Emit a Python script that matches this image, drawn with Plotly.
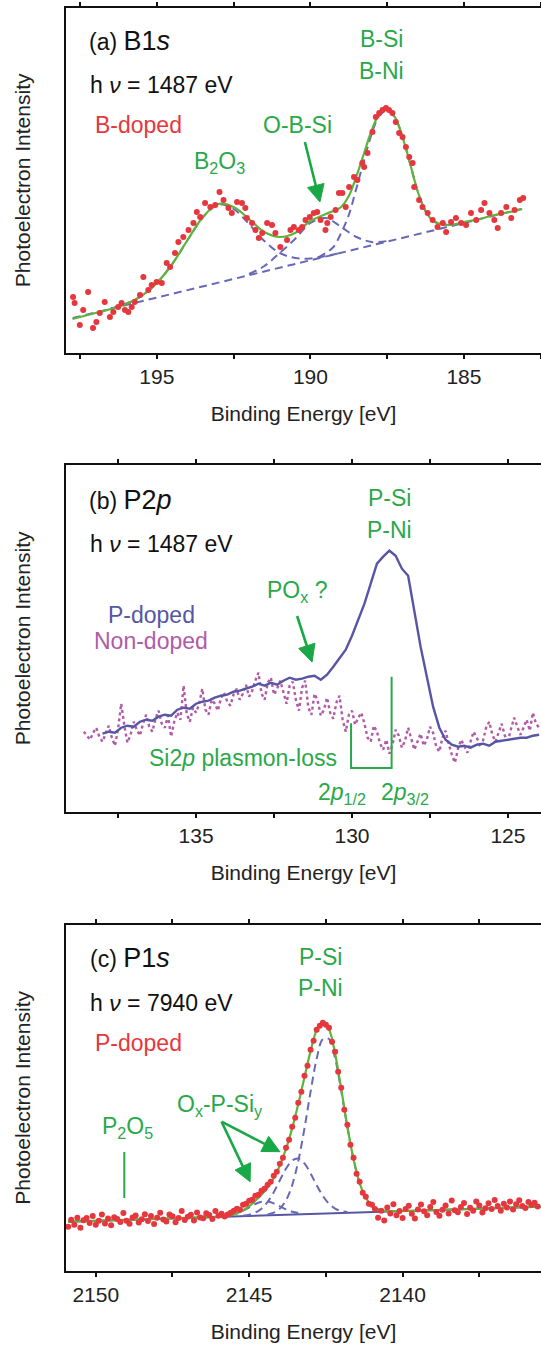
import plotly.graph_objects as go

# ---------------- (a) B 1s, hv = 1487 eV ----------------
b1s_energy = [197.73, 197.68, 197.51, 197.40, 197.24, 197.08, 196.97, 196.86, 196.70, 196.53,
              196.42, 196.26, 196.15, 196.04, 195.93, 195.82, 195.72, 195.55, 195.44, 195.28,
              195.17, 195.01, 194.84, 194.68, 194.57, 194.41, 194.30, 194.14, 193.97, 193.81,
              193.70, 193.59, 193.43, 193.26, 193.10, 192.96, 192.83, 192.67, 192.56, 192.39,
              192.23, 192.12, 192.07, 191.90, 191.79, 191.68, 191.57, 191.41, 191.25, 191.14,
              190.98, 190.76, 190.65, 190.54, 190.38, 190.27, 190.16, 190.02, 189.89, 189.78,
              189.67, 189.51, 189.45, 189.34, 189.18, 189.07, 188.96, 188.85, 188.74, 188.58,
              188.47, 188.31, 188.25, 188.14, 187.98, 187.87, 187.76, 187.65, 187.54, 187.44,
              187.33, 187.22, 187.11, 187.00, 186.89, 186.78, 186.67, 186.62, 186.46, 186.35,
              186.18, 186.02, 185.86, 185.69, 185.58, 185.42, 185.26, 185.09, 184.93, 184.77,
              184.60, 184.44, 184.33, 184.17, 184.01, 183.90, 183.79, 183.62, 183.46, 183.35,
              183.18, 183.07]
b1s_counts = [55, 49, 27, 42, 60, 24, 30, 39, 50, 35,
              40, 45, 49, 42, 40, 45, 50, 57, 75, 62,
              67, 70, 69, 89, 85, 99, 110, 115, 122, 129,
              140, 135, 149, 145, 147, 160, 152, 144, 139, 150,
              149, 144, 134, 129, 122, 114, 119, 129, 127, 119,
              105, 112, 122, 125, 122, 125, 132, 135, 139, 140,
              132, 122, 129, 135, 142, 159, 159, 145, 165, 175,
              172, 189, 185, 199, 220, 235, 239, 242, 244, 242,
              239, 230, 219, 215, 205, 195, 189, 165, 152, 145,
              139, 132, 125, 129, 120, 130, 134, 129, 127, 139,
              132, 142, 149, 139, 132, 124, 139, 145, 134, 142,
              152, 154]
b1s_fit_energy = [197.75, 197.0, 196.5, 196.0, 195.5, 195.0, 194.5, 194.0, 193.5, 193.0,
                  192.5, 192.0, 191.5, 191.0, 190.5, 190.0, 189.5, 189.0, 188.75, 188.5,
                  188.25, 188.0, 187.75, 187.5, 187.25, 187.0, 186.75, 186.5, 186.25, 186.0,
                  185.5, 185.0, 184.5, 184.0, 183.5, 183.1]
b1s_fit = [33, 39, 43, 48, 56, 69, 88, 112, 135, 148,
           145, 133, 120, 115, 119, 131, 138, 145, 156, 176,
           199, 222, 238, 242, 235, 215, 188, 160, 141, 131,
           127, 130, 133, 137, 140, 143]
b1s_bg_energy = [197.74, 183.13]
b1s_bg = [34, 143]
b2o3_energy = [196.5, 196.0, 195.5, 195.0, 194.5, 194.0, 193.5, 193.0, 192.5, 192.0,
               191.5, 191.0, 190.5, 190.0, 189.5, 189.0]
b2o3_comp = [43.5, 48.5, 56, 69, 88, 112, 134.5, 147.5, 143, 128,
             111, 99, 94, 93.5, 96, 99.3]
obsi_energy = [192.0, 191.5, 191.0, 190.5, 190.0, 189.5, 189.0, 188.5, 188.0, 187.5]
obsi_comp = [78, 86, 99, 113, 129, 134, 125, 115, 110, 111]
bsi_energy = [189.75, 189.5, 189.25, 189.0, 188.75, 188.5, 188.25, 188.0, 187.75, 187.5,
              187.25, 187.0, 186.75, 186.5, 186.25, 186.0, 185.5, 185.0]
bsi_comp = [94.5, 99, 105, 119, 137, 164, 192, 218.5, 236.5, 241,
            234.5, 215, 188, 160, 141, 131, 127, 129.5]

# ---------------- (b) P 2p, hv = 1487 eV ----------------
p2p_doped_energy = [138.0, 137.8, 137.6, 137.4, 137.2, 137.0, 136.8, 136.6, 136.4, 136.2,
                    136.0, 135.8, 135.6, 135.4, 135.2, 135.0, 134.8, 134.6, 134.4, 134.2,
                    134.0, 133.8, 133.6, 133.4, 133.2, 133.0, 132.8, 132.6, 132.4, 132.2,
                    132.0, 131.8, 131.6, 131.4, 131.2, 131.0, 130.8, 130.6, 130.4, 130.2,
                    130.0, 129.8, 129.6, 129.4, 129.2, 129.0, 128.8, 128.6, 128.4, 128.2,
                    128.0, 127.8, 127.6, 127.4, 127.2, 127.0, 126.8, 126.6, 126.4, 126.2,
                    126.0, 125.8, 125.6, 125.4, 125.2, 125.0, 124.8, 124.6, 124.4, 124.2,
                    124.0]
p2p_doped = [78, 80, 79, 84, 86, 85, 90, 92, 91, 95,
             97, 96, 102, 104, 103, 108, 110, 111, 114, 116,
             117, 120, 121, 123, 125, 128, 126, 129, 127, 131,
             134, 132, 133, 135, 136, 132, 137, 145, 154, 162,
             176, 192, 208, 228, 248, 255, 261, 256, 243, 236,
             200, 165, 135, 105, 84, 72, 67, 65, 66, 64,
             67, 68, 66, 70, 71, 72, 73, 74, 74, 76,
             77]
p2p_non_energy = [138.6, 138.5, 138.4, 138.3, 138.2, 138.1, 138.0, 137.9, 137.8, 137.7,
                  137.6, 137.5, 137.4, 137.3, 137.2, 137.1, 137.0, 136.9, 136.8, 136.7,
                  136.6, 136.5, 136.4, 136.3, 136.2, 136.1, 136.0, 135.9, 135.8, 135.7,
                  135.6, 135.5, 135.4, 135.3, 135.2, 135.1, 135.0, 134.9, 134.8, 134.7,
                  134.6, 134.5, 134.4, 134.3, 134.2, 134.1, 134.0, 133.9, 133.8, 133.7,
                  133.6, 133.5, 133.4, 133.3, 133.2, 133.1, 133.0, 132.9, 132.8, 132.7,
                  132.6, 132.5, 132.4, 132.3, 132.2, 132.1, 132.0, 131.9, 131.8, 131.7,
                  131.6, 131.5, 131.4, 131.3, 131.2, 131.1, 131.0, 130.9, 130.8, 130.7,
                  130.6, 130.5, 130.4, 130.3, 130.2, 130.1, 130.0, 129.9, 129.8, 129.7,
                  129.6, 129.5, 129.4, 129.3, 129.2, 129.1, 129.0, 128.9, 128.8, 128.7,
                  128.6, 128.5, 128.4, 128.3, 128.2, 128.1, 128.0, 127.9, 127.8, 127.7,
                  127.6, 127.5, 127.4, 127.3, 127.2, 127.1, 127.0, 126.9, 126.8, 126.7,
                  126.6, 126.5, 126.4, 126.3, 126.2, 126.1, 126.0, 125.9, 125.8, 125.7,
                  125.6, 125.5, 125.4, 125.3, 125.2, 125.1, 125.0, 124.9, 124.8, 124.7,
                  124.6, 124.5, 124.4, 124.3, 124.2, 124.1, 124.0]
p2p_non = [80, 76, 72, 79, 84, 75, 70, 78, 86, 74,
           66, 83, 108, 86, 69, 77, 90, 82, 76, 88,
           97, 85, 80, 93, 101, 88, 84, 96, 75, 90,
           99, 92, 126, 98, 90, 104, 99, 108, 123, 102,
           97, 112, 108, 101, 114, 119, 110, 106, 117, 123,
           112, 118, 127, 115, 121, 131, 139, 118, 112, 129,
           134, 117, 123, 131, 120, 108, 126, 130, 112, 101,
           124, 131, 104, 97, 118, 111, 96, 102, 114, 99,
           93, 109, 116, 92, 80, 97, 101, 87, 94, 99,
           88, 74, 70, 86, 80, 68, 62, 72, 58, 67,
           82, 76, 64, 71, 84, 73, 62, 70, 78, 66,
           72, 85, 79, 65, 60, 74, 81, 68, 57, 49,
           63, 72, 66, 59, 70, 80, 74, 67, 71, 84,
           90, 77, 70, 80, 88, 76, 71, 83, 94, 85,
           77, 84, 92, 81, 99, 88, 84]
# Si 2p plasmon-loss markers (2p1/2, 2p3/2)
plasmon_energy = [130.03, 128.73]
plasmon_height = [88.4, 135.0]
plasmon_floor = 43.7

# ---------------- (c) P 1s, hv = 7940 eV ----------------
p1s_energy = [2150.9, 2150.8, 2150.7, 2150.6, 2150.5, 2150.4, 2150.3, 2150.2, 2150.1, 2150.0,
              2149.9, 2149.8, 2149.7, 2149.6, 2149.5, 2149.4, 2149.3, 2149.2, 2149.1, 2149.0,
              2148.9, 2148.8, 2148.7, 2148.6, 2148.5, 2148.4, 2148.3, 2148.2, 2148.1, 2148.0,
              2147.9, 2147.8, 2147.7, 2147.6, 2147.5, 2147.4, 2147.3, 2147.2, 2147.1, 2147.0,
              2146.9, 2146.8, 2146.7, 2146.6, 2146.5, 2146.4, 2146.3, 2146.2, 2146.1, 2146.0,
              2145.9, 2145.8, 2145.7, 2145.6, 2145.5, 2145.4, 2145.3, 2145.2, 2145.1, 2145.0,
              2144.9, 2144.8, 2144.7, 2144.6, 2144.5, 2144.4, 2144.3, 2144.2, 2144.1, 2144.0,
              2143.9, 2143.8, 2143.7, 2143.6, 2143.5, 2143.4, 2143.3, 2143.2, 2143.1, 2143.0,
              2142.9, 2142.8, 2142.7, 2142.6, 2142.5, 2142.4, 2142.3, 2142.2, 2142.1, 2142.0,
              2141.9, 2141.8, 2141.7, 2141.6, 2141.5, 2141.4, 2141.3, 2141.2, 2141.1, 2141.0,
              2140.9, 2140.8, 2140.7, 2140.6, 2140.5, 2140.4, 2140.3, 2140.2, 2140.1, 2140.0,
              2139.9, 2139.8, 2139.7, 2139.6, 2139.5, 2139.4, 2139.3, 2139.2, 2139.1, 2139.0,
              2138.9, 2138.8, 2138.7, 2138.6, 2138.5, 2138.4, 2138.3, 2138.2, 2138.1, 2138.0,
              2137.9, 2137.8, 2137.7, 2137.6, 2137.5, 2137.4, 2137.3, 2137.2, 2137.1, 2137.0,
              2136.9, 2136.8, 2136.7, 2136.6, 2136.5, 2136.4, 2136.3, 2136.2, 2136.1, 2136.0,
              2135.9, 2135.8, 2135.7, 2135.6]
p1s_counts = [44, 51, 46, 53, 43, 50.5, 52.6, 47.7, 54.8, 45.9,
              50.0, 56.1, 47.2, 52.3, 45.4, 53.5, 51.6, 48.7, 57.8, 49.9,
              47.0, 53.1, 55.2, 48.3, 51.4, 56.5, 49.6, 54.7, 46.8, 52.9,
              58.0, 51.1, 49.2, 56.3, 54.4, 48.5, 52.6, 59.7, 50.8, 53.9,
              56.0, 50.1, 58.2, 53.3, 52.4, 57.5, 55.6, 51.7, 59.8, 54.9,
              57.0, 54.1, 56.2, 58, 60, 62, 61, 66, 67, 70,
              71, 75, 76, 80, 82, 86, 89, 95, 99, 107,
              113, 123, 131, 144, 153, 168, 179, 195, 205, 221,
              230, 241, 245, 248, 246, 243, 229, 219, 199, 183,
              161, 146, 126, 113, 97, 89, 78, 74, 67, 66,
              61.8, 52.9, 60.0, 50.1, 63.2, 57.3, 66.4, 55.5, 59.6, 52.7,
              61.8, 64.9, 57.0, 52.1, 61.2, 66.3, 59.4, 55.5, 63.6, 68.7,
              58.8, 54.9, 61.0, 65.1, 57.2, 70.3, 60.4, 58.5, 63.6, 67.7,
              56.8, 62.9, 60.0, 69.1, 65.2, 58.3, 62.4, 67.5, 61.6, 70.7,
              64.8, 59.9, 67.0, 63.1, 69.2, 61.3, 66.4, 70.5, 64.6, 62.7,
              68.8, 65.9, 68.0, 64.1]
p1s_fit_energy = [2150.9, 2148.0, 2146.0, 2145.6, 2145.4, 2145.2, 2145.0, 2144.8, 2144.6, 2144.4,
                  2144.2, 2144.0, 2143.8, 2143.6, 2143.4, 2143.2, 2143.0, 2142.8, 2142.6, 2142.4,
                  2142.2, 2142.0, 2141.8, 2141.6, 2141.4, 2141.2, 2141.0, 2140.8, 2140.6, 2140.0,
                  2138.0, 2135.5]
p1s_fit = [49.0, 51.9, 54.0, 55.5, 57.3, 60.3, 64.5, 69.9, 76.0, 83.2,
           92.5, 105.2, 121.8, 142.3, 166.7, 193.3, 219.6, 240.4, 248.0, 241.4,
           217.0, 181.8, 144.2, 111.6, 87.6, 72.9, 65.0, 61.3, 59.9, 59.7,
           61.6, 64.0]
p1s_bg_energy = [2150.9, 2135.5]
p1s_bg = [49.0, 64.0]
psi_energy = [2144.4, 2144.2, 2144.0, 2143.8, 2143.6, 2143.4, 2143.2, 2143.0, 2142.8, 2142.6,
              2142.4, 2142.2, 2142.0, 2141.8, 2141.6, 2141.4, 2141.2, 2141.0, 2140.8, 2140.6]
psi_comp = [56.2, 58.0, 62.1, 70.4, 85.5, 109.6, 142.1, 178.9, 211.9, 231.5,
            231.7, 212.4, 179.8, 143.4, 111.3, 87.6, 72.9, 65.0, 61.3, 59.9]
oxpsi_energy = [2145.2, 2145.0, 2144.8, 2144.6, 2144.4, 2144.2, 2144.0, 2143.8, 2143.6, 2143.4,
                2143.2, 2143.0, 2142.8, 2142.6, 2142.4, 2142.2, 2142.0, 2141.8]
oxpsi_comp = [55.0, 56.0, 58.1, 62.0, 68.7, 78.4, 90.4, 102.1, 110.2, 112.2,
              107.3, 97.3, 85.5, 74.8, 67.0, 62.1, 59.7, 58.7]
oxpsi2_energy = [2145.6, 2145.4, 2145.2, 2145.0, 2144.8, 2144.6, 2144.4, 2144.2, 2144.0, 2143.8,
                 2143.6, 2143.4]
oxpsi2_comp = [55.5, 57.2, 59.9, 63.3, 66.7, 68.9, 69.1, 67.3, 64.3, 61.3,
               59.0, 57.7]

# ---------------- axes ----------------
ticks_a = [195, 190, 185]
minor_a = [197.5, 192.5, 187.5, 182.5]
ticks_b = [135, 130, 125]
minor_b = [137.5, 132.5, 127.5]
ticks_c = [2150, 2145, 2140]
minor_c = [2147.5, 2142.5, 2137.5]
x_title = "Binding Energy [eV]"
y_title = "Photoelectron Intensity"

# ---------------- styling ----------------
FONT = "Liberation Sans, Arial, sans-serif"
W, H = 541, 1347
RED = "#e5373d"
FIT_GREEN = "#5db53a"
TXT_GREEN = "#2aa84a"
ARROW_GREEN = "#19a846"
DASH_BLUE = "#6868b8"
SOLID_BLUE = "#5656a4"
NON_PURPLE = "#b15aa8"
DASH = "8px,5px"
LABEL = 23

# panel frames in page pixels: (top, bottom); all start at x = 66 and run to the right edge
frames = {"a": (8, 352.7), "b": (465, 811.7), "c": (925, 1270.7)}
ranges_x = {"a": [197.96, 182.49], "b": [139.17, 123.94], "c": [2150.97, 2135.49]}
ranges_y = {"a": [-0.7, 344.0], "b": [0, 346.7], "c": [0, 345.7]}
PLOT_LEFT = 66
LEFT = PLOT_LEFT / W

fig = go.Figure()


def ydom(top, bottom):
    return [1 - bottom / H, 1 - top / H]


def line(x, y, ax, color, width=2.0, dash=None, shape="linear"):
    fig.add_trace(go.Scatter(
        x=x, y=y, mode="lines", xaxis="x" + ax, yaxis="y" + ax,
        line=dict(color=color, width=width, dash=dash, shape=shape),
        showlegend=False, hoverinfo="skip"))


def dots(x, y, ax):
    fig.add_trace(go.Scatter(
        x=x, y=y, mode="markers", xaxis="x" + ax, yaxis="y" + ax,
        marker=dict(color=RED, size=6, line=dict(width=0)),
        showlegend=False, hoverinfo="skip"))


# (a)
line(b1s_bg_energy, b1s_bg, "", DASH_BLUE, 2, DASH)
line(b2o3_energy, b2o3_comp, "", DASH_BLUE, 2, DASH, "spline")
line(obsi_energy, obsi_comp, "", DASH_BLUE, 2, DASH, "spline")
line(bsi_energy, bsi_comp, "", DASH_BLUE, 2, DASH, "spline")
line(b1s_fit_energy, b1s_fit, "", FIT_GREEN, 2.2, None, "spline")
dots(b1s_energy, b1s_counts, "")

# (b)
line(p2p_non_energy, p2p_non, "2", NON_PURPLE, 2.4, "dot")
line(p2p_doped_energy, p2p_doped, "2", SOLID_BLUE, 2.4)
line([plasmon_energy[0], plasmon_energy[0], plasmon_energy[1], plasmon_energy[1]],
     [plasmon_height[0], plasmon_floor, plasmon_floor, plasmon_height[1]], "2", TXT_GREEN, 2)

# (c)
line(p1s_bg_energy, p1s_bg, "3", SOLID_BLUE, 2)
line(oxpsi2_energy, oxpsi2_comp, "3", DASH_BLUE, 2, DASH, "spline")
line(oxpsi_energy, oxpsi_comp, "3", DASH_BLUE, 2, DASH, "spline")
line(psi_energy, psi_comp, "3", DASH_BLUE, 2, DASH, "spline")
line(p1s_fit_energy, p1s_fit, "3", FIT_GREEN, 2.2, None, "spline")
line([2149.07, 2149.07], [72.7, 118.7], "3", TXT_GREEN, 2)
dots(p1s_energy, p1s_counts, "3")

layout_axes = {}
for key, suffix, major, minor in (("a", "", ticks_a, minor_a), ("b", "2", ticks_b, minor_b),
                                  ("c", "3", ticks_c, minor_c)):
    top, bottom = frames[key]
    layout_axes["xaxis" + suffix] = dict(
        showline=True, linecolor="#111", linewidth=2, mirror="ticks",
        ticks="outside", ticklen=4, tickwidth=1.5, tickcolor="#111",
        tickvals=major, ticktext=[str(v) for v in major],
        minor=dict(tickvals=minor, ticks="outside", ticklen=4, tickwidth=1.5,
                   tickcolor="#111", showgrid=False),
        showgrid=False, zeroline=False,
        tickfont=dict(family=FONT, size=21, color="#222"),
        title=dict(text=x_title, standoff=19, font=dict(family=FONT, size=21, color="#222")),
        domain=[LEFT, 1], range=ranges_x[key], anchor="y" + suffix)
    layout_axes["yaxis" + suffix] = dict(
        showline=True, linecolor="#111", linewidth=2, showticklabels=False, ticks="",
        showgrid=False, zeroline=False, domain=ydom(top, bottom), range=ranges_y[key],
        title=dict(text=y_title, standoff=28, font=dict(family=FONT, size=21, color="#222")),
        anchor="x" + suffix)

ann = []
shapes = []


def text(s, x, y, ax, color="#111", size=LABEL, anchor="center"):
    ann.append(dict(text=s, x=x, y=y, xref="x" + ax, yref="y" + ax, showarrow=False,
                    xanchor=anchor, yanchor="middle",
                    font=dict(family=FONT, size=size, color=color)))


def arrow(x0, y0, x1, y1, ax, key, head=17.0, half=8.5):
    """Green arrow from (x0, y0) to the tip (x1, y1), built as a shaft plus a filled head."""
    lo, hi = ranges_x[key]
    sx = (W - PLOT_LEFT) / (lo - hi)          # pixels per eV (axis runs high -> low)
    top, bottom = frames[key]
    y_lo, y_hi = ranges_y[key]
    sy = (bottom - top) / (y_hi - y_lo)       # pixels per intensity unit
    px0, py0, px1, py1 = -x0 * sx, y0 * sy, -x1 * sx, y1 * sy
    dx, dy = px1 - px0, py1 - py0
    n = (dx * dx + dy * dy) ** 0.5
    ux, uy = dx / n, dy / n
    bx, by = px1 - ux * head, py1 - uy * head
    lx, ly = bx - uy * half, by + ux * half
    rx, ry = bx + uy * half, by - ux * half
    to_e = lambda p: -p / sx
    to_i = lambda p: p / sy
    xr, yr = "x" + ax, "y" + ax
    shapes.append(dict(type="line", xref=xr, yref=yr, x0=x0, y0=y0,
                       x1=to_e(bx + ux * 2), y1=to_i(by + uy * 2),
                       line=dict(color=ARROW_GREEN, width=2.6)))
    shapes.append(dict(type="path", xref=xr, yref=yr,
                       path="M %f,%f L %f,%f L %f,%f Z" % (to_e(px1), to_i(py1), to_e(lx), to_i(ly),
                                                            to_e(rx), to_i(ry)),
                       fillcolor=ARROW_GREEN, line=dict(color=ARROW_GREEN, width=1)))


TITLE = "(%s) <span style='font-size:27px'>%s</span>"

# (a) labels
text(TITLE % ("a", "B1<i>s</i>"), 197.28, 311, "", anchor="left")
text("h <i>ν</i> = 1487 eV", 197.25, 267, "", anchor="left")
text("B-doped", 197.08, 227, "", color=RED, anchor="left")
text("B-Si", 187.68, 313, "", color=TXT_GREEN)
text("B-Ni", 187.68, 281, "", color=TXT_GREEN)
text("O-B-Si", 190.42, 227, "", color=TXT_GREEN)
text("B<sub>2</sub>O<sub>3</sub>", 192.95, 189, "", color=TXT_GREEN)
arrow(190.18, 210, 189.69, 150, "", "a")

# (b) labels
text(TITLE % ("b", "P2<i>p</i>"), 138.49, 311.7, "2", anchor="left")
text("h <i>ν</i> = 1487 eV", 138.46, 267.7, "2", anchor="left")
text("P-Si", 128.81, 313.7, "2", color=TXT_GREEN)
text("P-Ni", 128.81, 281.7, "2", color=TXT_GREEN)
text("PO<sub>x</sub> ?", 131.76, 220.7, "2", color=TXT_GREEN)
text("P-doped", 136.44, 196.7, "2", color=SOLID_BLUE)
text("Non-doped", 136.44, 170.7, "2", color=NON_PURPLE)
text("Si2<i>p</i> plasmon-loss", 133.48, 53.7, "2", color=TXT_GREEN)
text("2<i>p</i><sub>1/2</sub>", 130.32, 18.7, "2", color=TXT_GREEN)
text("2<i>p</i><sub>3/2</sub>", 128.30, 18.7, "2", color=TXT_GREEN)
arrow(131.76, 195.7, 131.28, 149.7, "2", "b")

# (c) labels
text(TITLE % ("c", "P1<i>s</i>"), 2150.25, 312.7, "3", anchor="left")
text("h <i>ν</i> = 7940 eV", 2150.25, 267.7, "3", anchor="left")
text("P-doped", 2150.09, 227.7, "3", color=RED, anchor="left")
text("P-Si", 2142.69, 313.7, "3", color=TXT_GREEN)
text("P-Ni", 2142.69, 282.7, "3", color=TXT_GREEN)
text("O<sub>x</sub>-P-Si<sub>y</sub>", 2145.95, 165.7, "3", color=TXT_GREEN)
text("P<sub>2</sub>O<sub>5</sub>", 2148.95, 143.7, "3", color=TXT_GREEN)
arrow(2145.90, 149, 2144.0, 119, "3", "c")
arrow(2145.90, 149, 2144.97, 89, "3", "c")

fig.update_layout(width=W, height=H, margin=dict(l=0, r=0, t=0, b=0),
                  paper_bgcolor="white", plot_bgcolor="white", annotations=ann,
                  shapes=shapes, **layout_axes)

fig.write_html("out.html")
